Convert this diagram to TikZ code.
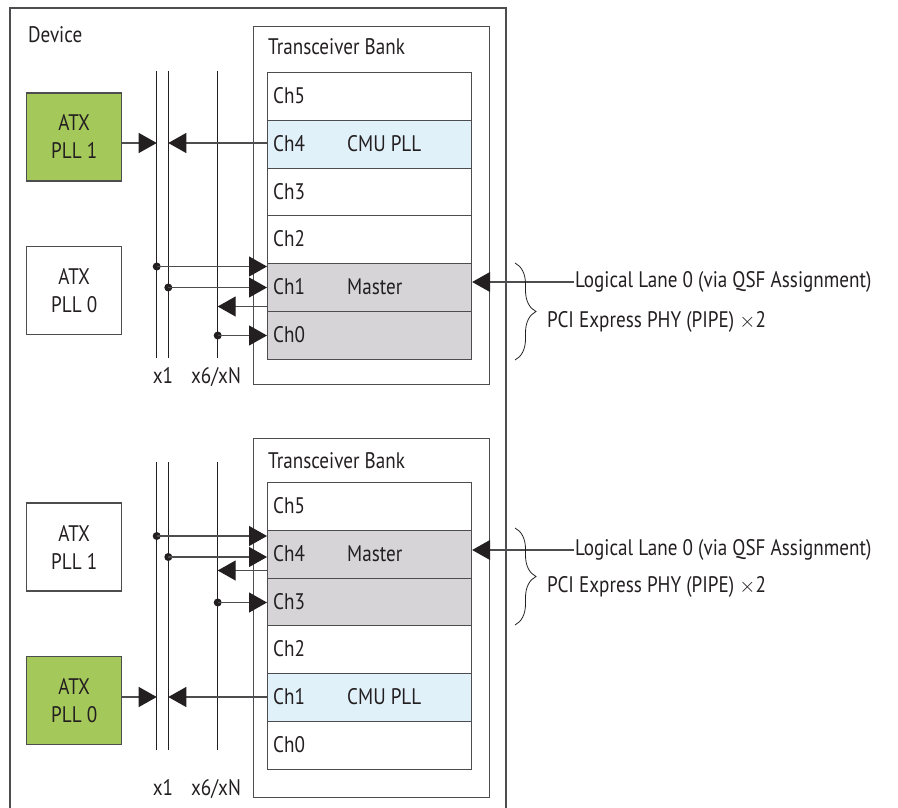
\documentclass[tikz,border=0pt]{standalone}
\usepackage{fontspec}
\setmainfont[FakeStretch=0.85]{PT Sans}
\usetikzlibrary{arrows.meta,decorations.pathreplacing,calc}
\definecolor{atxgreen}{HTML}{A5C85B}
\definecolor{cmublue}{HTML}{E1F1FA}
\definecolor{mastergray}{HTML}{D7D4D7}
\definecolor{linec}{HTML}{4D4D4F}
\definecolor{ink}{HTML}{231F20}
\tikzset{
  bank/.style={draw=linec, line width=1.2pt, anchor=north west, inner sep=0, minimum width=236pt},
  ch/.style={draw=linec, line width=1.2pt, anchor=north west, inner sep=0, minimum width=204pt, minimum height=47.75pt},
  atx/.style={draw=linec, line width=1.2pt, inner sep=0, minimum width=95pt, minimum height=88pt, align=center},
  bus/.style={draw=ink, line width=1pt},
  arr/.style={draw=linec, line width=1.2pt, -{Triangle[length=18pt,width=20pt,color=ink]}},
  dotn/.style={circle, fill=ink, inner sep=0, minimum size=8pt},
  txt/.style={inner sep=0, anchor=base west},
  brc/.style={draw=ink, line width=0.8pt, decorate, decoration={brace, amplitude=21pt}}
}
\begin{document}
\begin{tikzpicture}[x=1pt,y=-1pt, font=\fontsize{22.5}{28}\selectfont, text=ink]
\useasboundingbox (0,0) rectangle (898,808);
% device
\coordinate (devbl) at (10,812);
\coordinate (devtl) at (10,8);
\coordinate (devtr) at (506,8);
\coordinate (devbr) at (506,812);
\draw[draw=linec, line width=1.2pt] (devbl) -- (devtl) -- (devtr) -- (devbr);
\node[txt] (devlbl) at (28,43) {Device};

% ===== bank 1 =====
\node[bank, minimum height=358pt] (bank1) at (253,26) {};
\node[txt] (bank1lbl) at (268,55) {Transceiver Bank};
\node[ch] (b1c5) at (267,72) {};
\node[ch, fill=cmublue] (b1c4) at (267,119.75) {};
\node[ch] (b1c3) at (267,167.5) {};
\node[ch] (b1c2) at (267,215.25) {};
\node[ch, fill=mastergray] (b1c1) at (267,263) {};
\node[ch, fill=mastergray] (b1c0) at (267,310.75) {};
\foreach \k in {5,...,0} {
  \node[txt] (b1l\k) at ($(b1c\k.north west)+(6,31.5)$) {Ch\k};
}
\node[txt] (b1cmu) at ($(b1c4.north west)+(80,31.5)$) {CMU PLL};
\node[txt] (b1mas) at ($(b1c1.north west)+(80,31.5)$) {Master};

\node[atx, fill=atxgreen] (b1pll1) at (74.2,137) {ATX\\PLL 1};
\node[atx] (b1pll0) at (74.2,290.5) {ATX\\PLL 0};

\coordinate (b1at) at (156.7,71);  \coordinate (b1ab) at (156.7,358);
\coordinate (b1bt) at (168.3,71);  \coordinate (b1bb) at (168.3,358);
\coordinate (b1ct) at (217.7,71);  \coordinate (b1cb) at (217.7,358);
\draw[bus] (b1at) -- (b1ab);
\draw[bus] (b1bt) -- (b1bb);
\draw[bus] (b1ct) -- (b1cb);
\node[anchor=base, inner sep=0] (b1x1) at (163,383) {x1};
\node[anchor=base, inner sep=0] (b1xn) at (216,383) {x6/xN};

\draw[arr] (b1pll1.east |- 0,143) -- (b1at |- 0,143);
\draw[arr] (b1c4.west |- 0,143) -- (b1bt |- 0,143);

\node[dotn] (b1d1) at (156.7,266.5) {};
\node[dotn] (b1d2) at (168.3,287.5) {};
\node[dotn] (b1d4) at (217.7,335.5) {};
\coordinate (b1m3) at (267,306.5);
\draw[arr] (b1d1.center) -- (b1d1 -| b1c1.west);
\draw[arr] (b1d2.center) -- (b1d2 -| b1c1.west);
\draw[arr] (b1m3) -- (b1m3 -| b1ct);
\draw[arr] (b1d4.center) -- (b1d4 -| b1c0.west);

\node[txt, anchor=west, inner sep=1pt] (b1ll) at (574,282) {Logical Lane 0 (via QSF Assignment)};
\draw[arr] (b1ll.west) -- (b1ll.west -| b1c1.east);
\coordinate (b1brt) at (515,263);
\coordinate (b1brb) at (515,360);
\draw[brc] (b1brt) -- (b1brb);
\node[txt, anchor=west] (b1pci) at (547,322) {PCI Express PHY (PIPE) $\times$2};

% ===== bank 2 =====
\node[bank, minimum height=359pt] (bank2) at (253,438) {};
\node[txt] (bank2lbl) at (268,468) {Transceiver Bank};
\node[ch] (b2c5) at (267,482) {};
\node[ch, fill=mastergray] (b2c4) at (267,529.75) {};
\node[ch, fill=mastergray] (b2c3) at (267,577.5) {};
\node[ch] (b2c2) at (267,625.25) {};
\node[ch, fill=cmublue] (b2c1) at (267,673) {};
\node[ch] (b2c0) at (267,720.75) {};
\foreach \k in {5,...,0} {
  \node[txt] (b2l\k) at ($(b2c\k.north west)+(6,31.5)$) {Ch\k};
}
\node[txt] (b2mas) at ($(b2c4.north west)+(80,31.5)$) {Master};
\node[txt] (b2cmu) at ($(b2c1.north west)+(80,31.5)$) {CMU PLL};

\node[atx] (b2pll1) at (74.2,547) {ATX\\PLL 1};
\node[atx, fill=atxgreen] (b2pll0) at (74.2,700.5) {ATX\\PLL 0};

\coordinate (b2at) at (156.7,462);  \coordinate (b2ab) at (156.7,750);
\coordinate (b2bt) at (168.3,462);  \coordinate (b2bb) at (168.3,750);
\coordinate (b2ct) at (217.7,462);  \coordinate (b2cb) at (217.7,750);
\draw[bus] (b2at) -- (b2ab);
\draw[bus] (b2bt) -- (b2bb);
\draw[bus] (b2ct) -- (b2cb);
\node[anchor=base, inner sep=0] (b2x1) at (163,795) {x1};
\node[anchor=base, inner sep=0] (b2xn) at (216,795) {x6/xN};

\draw[arr] (b2pll0.east |- 0,697) -- (b2at |- 0,697);
\draw[arr] (b2c1.west |- 0,697) -- (b2bt |- 0,697);

\node[dotn] (b2d1) at (156.7,536) {};
\node[dotn] (b2d2) at (168.3,557) {};
\node[dotn] (b2d4) at (217.7,602.5) {};
\coordinate (b2m3) at (267,570.5);
\draw[arr] (b2d1.center) -- (b2d1 -| b2c4.west);
\draw[arr] (b2d2.center) -- (b2d2 -| b2c4.west);
\draw[arr] (b2m3) -- (b2m3 -| b2ct);
\draw[arr] (b2d4.center) -- (b2d4 -| b2c3.west);

\node[txt, anchor=west, inner sep=1pt] (b2ll) at (574,550) {Logical Lane 0 (via QSF Assignment)};
\draw[arr] (b2ll.west) -- (b2ll.west -| b2c4.east);
\coordinate (b2brt) at (515,528);
\coordinate (b2brb) at (515,625);
\draw[brc] (b2brt) -- (b2brb);
\node[txt, anchor=west] (b2pci) at (547,587) {PCI Express PHY (PIPE) $\times$2};
\end{tikzpicture}
\end{document}
